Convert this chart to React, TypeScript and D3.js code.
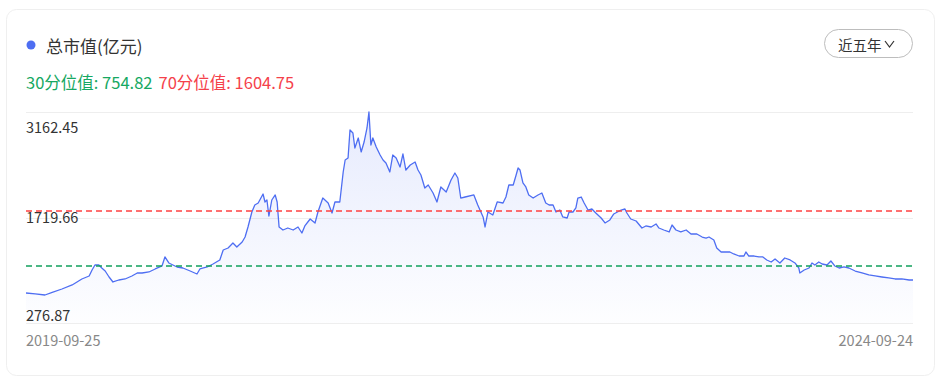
import React from "react";
import * as d3 from "d3";

// ---- data ----
const START_DATE = "2019-09-25";
const END_DATE = "2024-09-24";
const X_LABELS = ["2019-09-25", "2024-09-24"];
const Y_TICKS = [276.87, 1719.66, 3162.45];
const P30 = 754.82;
const P70 = 1604.75;
const TITLE = "总市值(亿元)";
const RANGE_BUTTON = "近五年";

// day offset from START_DATE
const DAYS = [
  0, 19, 39, 54, 74, 95, 115, 130, 136, 142, 150, 156, 163, 171, 179, 191, 204, 218, 229, 239,
  253, 266, 280, 286, 294, 311, 323, 338, 352, 358, 373, 385, 399, 406, 416, 426, 434, 445, 451, 457,
  465, 471, 478, 488, 492, 496, 500, 506, 513, 517, 521, 529, 539, 550, 560, 568, 574, 585, 595, 601,
  611, 622, 630, 636, 646, 653, 657, 663, 667, 673, 677, 684, 690, 696, 702, 706, 710, 714, 721, 729,
  735, 741, 749, 755, 762, 770, 776, 782, 791, 801, 807, 813, 821, 828, 838, 846, 854, 865, 875, 883,
  889, 895, 904, 922, 930, 941, 945, 951, 961, 970, 982, 988, 994, 1003, 1009, 1013, 1017, 1023, 1029, 1035,
  1044, 1054, 1062, 1070, 1077, 1085, 1091, 1099, 1105, 1114, 1118, 1126, 1132, 1136, 1143, 1149, 1157, 1165, 1173, 1184,
  1192, 1202, 1210, 1225, 1233, 1237, 1245, 1256, 1268, 1276, 1287, 1297, 1303, 1313, 1324, 1330, 1338, 1348, 1359, 1369,
  1381, 1392, 1400, 1406, 1416, 1422, 1431, 1441, 1449, 1457, 1468, 1478, 1482, 1488, 1499, 1509, 1517, 1525, 1534, 1542,
  1552, 1562, 1573, 1583, 1591, 1593, 1602, 1612, 1618, 1624, 1632, 1639, 1649, 1657, 1665, 1674, 1684, 1694, 1707, 1721,
  1735, 1748, 1762, 1776, 1789, 1803, 1818, 1826,
];

const VALUES = [
  325, 310, 294, 335, 388, 451, 545, 592, 686, 764, 764, 717, 670, 576, 498, 529, 545, 592, 639, 639,
  655, 702, 749, 890, 796, 733, 717, 670, 623, 702, 733, 780, 843, 999, 1031, 1109, 1046, 1125, 1203, 1360,
  1595, 1705, 1736, 1877, 1752, 1783, 1532, 1783, 1862, 1752, 1360, 1313, 1344, 1313, 1360, 1266, 1376, 1485, 1423, 1595,
  1814, 1736, 1579, 1752, 1752, 2222, 2410, 2441, 2880, 2833, 2598, 2755, 2536, 2692, 2912, 3162.45, 2645, 2755, 2614, 2488,
  2410, 2363, 2222, 2488, 2441, 2300, 2504, 2253, 2332, 2379, 2253, 2175, 1971, 2018, 1893, 1752, 1987, 1909, 2097, 2206,
  2128, 1814, 1830, 1862, 1705, 1517, 1360, 1595, 1548, 1752, 1736, 1830, 2018, 2018, 2175, 2285, 2253, 2050, 1987, 1862,
  1814, 1862, 1893, 1736, 1705, 1705, 1595, 1626, 1517, 1501, 1595, 1595, 1658, 1814, 1830, 1736, 1626, 1642, 1579, 1501,
  1423, 1470, 1564, 1626, 1642, 1579, 1485, 1454, 1344, 1376, 1360, 1407, 1344, 1313, 1282, 1391, 1313, 1282, 1313, 1250,
  1250, 1203, 1187, 1203, 1156, 1031, 968, 968, 968, 937, 905, 905, 968, 905, 905, 890, 890, 843, 811, 858,
  796, 874, 843, 796, 717, 639, 686, 717, 796, 764, 811, 780, 764, 827, 749, 717, 733, 717, 670, 639,
  608, 592, 576, 561, 545, 545, 529, 529,
];

const Y_DOMAIN_LOW = -145;

const W = 943;
const H = 387;
const FONT = "'Noto Sans CJK SC', 'Noto Sans', sans-serif";

export default function App() {
  const parse = d3.timeParse("%Y-%m-%d");
  const start = parse(START_DATE) as Date;
  const end = parse(END_DATE) as Date;
  const data = DAYS.map((d, i) => ({ date: d3.timeDay.offset(start, d), value: VALUES[i] }));

  const left = 26;
  const right = 913;
  const top = 112;
  const bottom = 323;

  const x = d3.scaleTime().domain([start, end]).range([left, right]);
  const yMax = d3.max(VALUES) as number;
  const y = d3.scaleLinear().domain([Y_DOMAIN_LOW, yMax]).range([bottom, top]);
  const gridY = d3.scaleLinear().domain([Y_TICKS[0], Y_TICKS[Y_TICKS.length - 1]]).range([bottom, top]);

  const line = d3
    .line<{ date: Date; value: number }>()
    .x((d) => x(d.date))
    .y((d) => y(d.value))
    .curve(d3.curveLinear);
  const area = d3
    .area<{ date: Date; value: number }>()
    .x((d) => x(d.date))
    .y0(bottom)
    .y1((d) => y(d.value));

  const labelOffset = (i: number) => (i === 0 ? -9 : i === Y_TICKS.length - 1 ? 14 : -1);
  const crisp = (v: number) => Math.round(v) + 0.5;

  return (
    <svg
      width={W}
      height={H}
      style={{ position: "absolute", left: 0, top: 0, display: "block", fontFamily: FONT }}
    >
      <defs>
        <linearGradient id="areaGrad" x1="0" y1="0" x2="0" y2="1">
          <stop offset="0%" stopColor="#4e6ef2" stopOpacity={0.14} />
          <stop offset="100%" stopColor="#4e6ef2" stopOpacity={0.01} />
        </linearGradient>
      </defs>
      <rect x={6.5} y={9.5} width={928} height={366} rx={10} fill="#fff" stroke="#efefef" />

      {/* header */}
      <circle cx={31} cy={45} r={4.5} fill="#4e6ef2" />
      <text x={46} y={45} dominantBaseline="central" fontSize={17} fill="#333">
        {TITLE}
      </text>
      <text x={26} y={82} dominantBaseline="central" fontSize={16.5}>
        <tspan fill="#16a862">{`30分位值: ${P30}`}</tspan>
        <tspan fill="#f5414a" dx={6}>{`70分位值: ${P70}`}</tspan>
      </text>

      {/* range button */}
      <rect x={824.5} y={29.5} width={88} height={28} rx={14} fill="#fff" stroke="#bdbdbd" />
      <text x={838} y={44} dominantBaseline="central" fontSize={14.5} fill="#333">
        {RANGE_BUTTON}
      </text>
      <path d="M 885 41 L 889.5 47 L 894 41" fill="none" stroke="#333" strokeWidth={1.2} />

      {/* grid */}
      {Y_TICKS.map((t) => (
        <line key={t} x1={left} x2={right} y1={crisp(gridY(t))} y2={crisp(gridY(t))} stroke="#eeeeee" />
      ))}

      {/* area + line */}
      <path d={area(data) || ""} fill="url(#areaGrad)" />
      <path d={line(data) || ""} fill="none" stroke="#4e6ef2" strokeWidth={1.3} strokeLinejoin="round" />

      {/* percentile lines */}
      <line x1={left} x2={right} y1={Math.round(y(P70))} y2={Math.round(y(P70))} stroke="#ff4040" strokeDasharray="6 4" strokeWidth={1.6} />
      <line x1={left} x2={right} y1={Math.round(y(P30))} y2={Math.round(y(P30))} stroke="#12a05c" strokeDasharray="6 4" strokeWidth={1.6} />

      {/* y labels */}
      {Y_TICKS.map((t, i) => (
        <text key={t} x={left} y={gridY(t) + labelOffset(i)} dominantBaseline="central" fontSize={14.5} fill="#333">
          {t.toFixed(2)}
        </text>
      ))}

      {/* x labels */}
      {X_LABELS.map((l, i) => (
        <text
          key={l}
          x={x(parse(l) as Date)}
          y={339}
          dominantBaseline="central"
          textAnchor={i === 0 ? "start" : "end"}
          fontSize={14.5}
          fill="#888"
        >
          {l}
        </text>
      ))}
    </svg>
  );
}
